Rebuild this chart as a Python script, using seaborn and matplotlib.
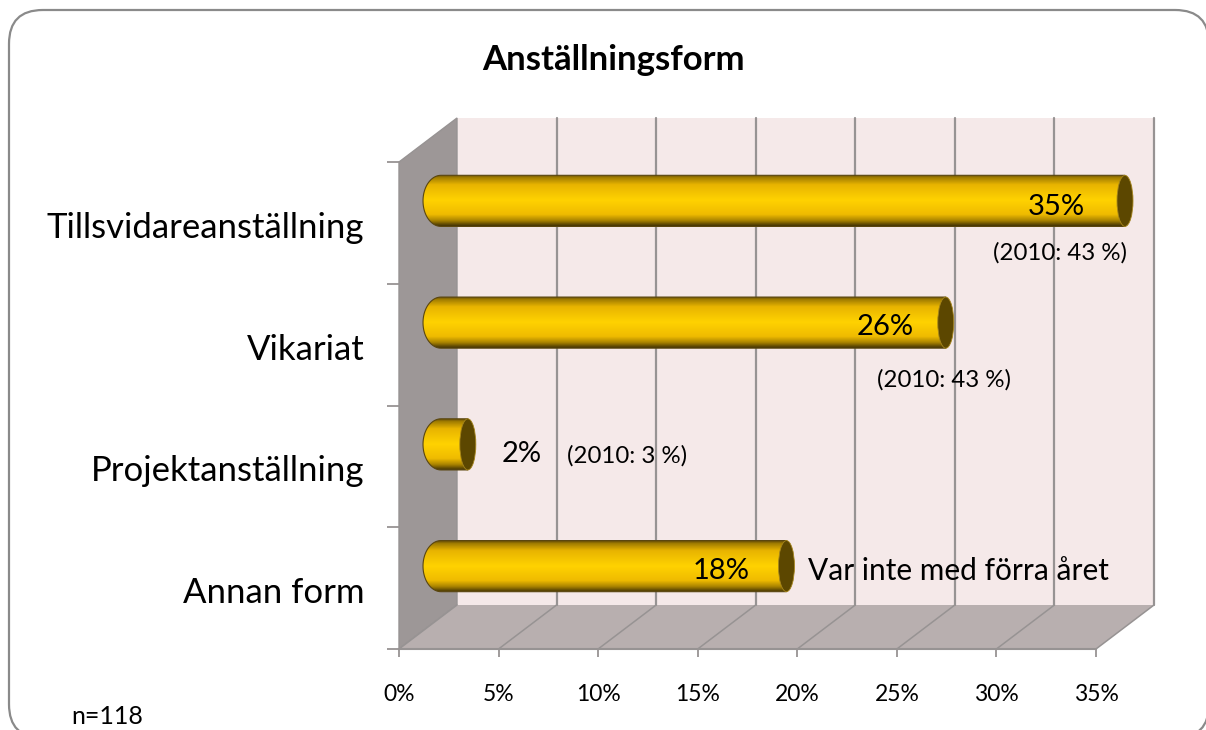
import numpy as np
import seaborn as sns
import matplotlib
matplotlib.use("Agg")
import matplotlib.pyplot as plt
from matplotlib.colors import LinearSegmentedColormap
from matplotlib.patches import Ellipse, FancyBboxPatch, PathPatch, Polygon, Rectangle
from matplotlib.path import Path
from matplotlib.transforms import ScaledTranslation

# ── Data ──────────────────────────────────────────────────────────────────────
categories = ["Tillsvidareanställning", "Vikariat", "Projektanställning", "Annan form"]
values = [35, 26, 2, 18]
value_labels = ["35%", "26%", "2%", "18%"]
notes = ["(2010: 43 %)", "(2010: 43 %)", "(2010: 3 %)", "Var inte med förra året"]
x_ticks = [0, 5, 10, 15, 20, 25, 30, 35]

# ── Layout (pixels) ───────────────────────────────────────────────────────────
W, H = 1206, 730
LEFT, RIGHT, TOP, BOTTOM = 399, 1096, 162, 649
PX_X = (RIGHT - LEFT) / 35
PX_Y = (BOTTOM - TOP) / 4
DX = 58 / PX_X            # depth of the 3D box, in data units
DY = 44 / PX_Y
LABEL_OFFSET = [(-40, 16), (-32, 18), (83, 12), (-36, 17)]
NOTE_OFFSET = [(-36, -30), (27, -35), (188, 11), (201, 17)]
NOTE_SIZE = [17.3, 17.3, 17.3, 21.5]

GRID = "#979393"
BACK = "#f5e9e9"
SIDE = "#9d9797"
FLOOR = "#b8afaf"
CAP = "#5c4700"
bar_cmap = LinearSegmentedColormap.from_list(
    "bar", [(0, "#5a4508"), (0.06, "#a07c00"), (0.2, "#e8b400"), (0.5, "#ffd200"),
            (0.78, "#efbb00"), (0.9, "#a98300"), (1, "#453505")])

sns.set_theme(style="white")
plt.rcParams["font.family"] = ["Lato", "DejaVu Sans"]

fig = plt.figure(figsize=(W / 100, H / 100), dpi=100)
ax = fig.add_axes([LEFT / W, 1 - BOTTOM / H, (RIGHT - LEFT) / W, (BOTTOM - TOP) / H])
ax.patch.set_alpha(0)

# ── Outer frame ───────────────────────────────────────────────────────────────
fig.add_artist(FancyBboxPatch(
    (9 / W, -8 / H), 1200 / W, 728 / H, boxstyle="round,pad=0,rounding_size=0.028",
    mutation_aspect=W / H, transform=fig.transFigure,
    facecolor="white", edgecolor="#8a8a8a", linewidth=1.6, zorder=-5))

# ── Bars ──────────────────────────────────────────────────────────────────────
sns.barplot(x=values, y=categories, orient="h", width=0.42, ax=ax)
ax.set_xlim(0, 35)
ax.set_ylim(3.5, -0.5)
bars = list(ax.patches)

# ── 3D box ────────────────────────────────────────────────────────────────────
ax.add_patch(Rectangle((DX, -0.5 - DY), 35, 4, facecolor=BACK, edgecolor="none",
                       clip_on=False, zorder=0.5))
ax.add_patch(Polygon([(0, -0.5), (DX, -0.5 - DY), (DX, 3.5 - DY), (0, 3.5)],
                     facecolor=SIDE, edgecolor=GRID, linewidth=1, clip_on=False, zorder=0.6))
ax.add_patch(Polygon([(0, 3.5), (DX, 3.5 - DY), (35 + DX, 3.5 - DY), (35, 3.5)],
                     facecolor=FLOOR, edgecolor="none", clip_on=False, zorder=0.6))
for t in x_ticks:
    if t > 0:
        ax.plot([t + DX, t + DX], [-0.5 - DY, 3.5 - DY], color=GRID, lw=1.6,
                clip_on=False, zorder=0.8)
    ax.plot([t, t + DX], [3.5, 3.5 - DY], color=GRID, lw=1.1, clip_on=False, zorder=0.8)

# Turn each seaborn bar into a shaded cylinder standing midway in the box
for bar, value in zip(bars, values):
    bar.set_visible(False)
    y0 = bar.get_y() - DY / 2
    h = bar.get_height()
    x0 = DX / 2 - 5 / PX_X
    x1 = value + DX / 2
    rx = 18 / PX_X
    theta = np.linspace(np.pi / 2, 3 * np.pi / 2, 40)
    left_x = x0 + rx + rx * np.cos(theta)
    left_y = y0 + h / 2 + h / 2 * np.sin(theta)
    verts = list(zip(left_x, left_y)) + [(x1, y0), (x1, y0 + h)]
    verts.append(verts[0])
    body = PathPatch(Path(verts, closed=True), facecolor="none", edgecolor="#5a4610",
                     linewidth=0.8, clip_on=False, zorder=3)
    ax.add_patch(body)
    im = ax.imshow(np.linspace(0, 1, 100).reshape(-1, 1), cmap=bar_cmap, aspect="auto",
                   extent=(x0, x1, y0 + h, y0), origin="upper", zorder=2.5)
    im.set_clip_box(fig.bbox)
    im.set_clip_path(body)
    # rim at the right end of the cylinder
    ax.add_patch(Ellipse((x1, y0 + h / 2), 16 / PX_X, h, facecolor=CAP, edgecolor="#a5851c",
                         linewidth=0.6, clip_on=False, zorder=3.5))
ax.set_xlim(0, 35)
ax.set_ylim(3.5, -0.5)

# ── Labels ────────────────────────────────────────────────────────────────────
for i, value in enumerate(values):
    ax.annotate(value_labels[i], (value, i), xytext=LABEL_OFFSET[i], textcoords="offset pixels",
                ha="center", va="center", fontsize=21, color="black", zorder=5,
                annotation_clip=False)
    ax.annotate(notes[i], (value, i), xytext=NOTE_OFFSET[i], textcoords="offset pixels",
                ha="center", va="center", fontsize=NOTE_SIZE[i], color="black", zorder=5,
                annotation_clip=False)

# ── Axes ──────────────────────────────────────────────────────────────────────
sns.despine(ax=ax, left=True, top=True, right=True)
ax.spines["bottom"].set_color(GRID)
ax.spines["bottom"].set_linewidth(1.5)
ax.spines["bottom"].set_zorder(1)
ax.set_xticks(x_ticks)
ax.set_xticklabels([f"{t}%" for t in x_ticks], fontsize=16.5, color="black")
ax.tick_params(axis="x", bottom=True, length=6, width=1.3, color=GRID, pad=19)
ax.set_yticks(range(len(categories)))
ax.set_yticklabels(categories, fontsize=25, color="black")
ax.set_yticks(np.arange(-0.5, 4, 1), minor=True)
ax.tick_params(axis="y", which="major", left=False, pad=19)
ax.tick_params(axis="y", which="minor", left=True, length=9, width=1.3, color=GRID)
for label in ax.get_yticklabels():
    label.set_transform(label.get_transform() + ScaledTranslation(0, -2 / 100, fig.dpi_scale_trans))
ax.set_xlabel("")
ax.set_ylabel("")
ax.grid(False)

fig.text(614 / W, 1 - 60 / H, "Anställningsform", ha="center", va="center",
         fontsize=25, fontweight="bold", color="black")
fig.text(107 / W, 1 - 716 / H, "n=118", ha="center", va="center", fontsize=18, color="black")

fig.savefig("out.png", dpi=100)
